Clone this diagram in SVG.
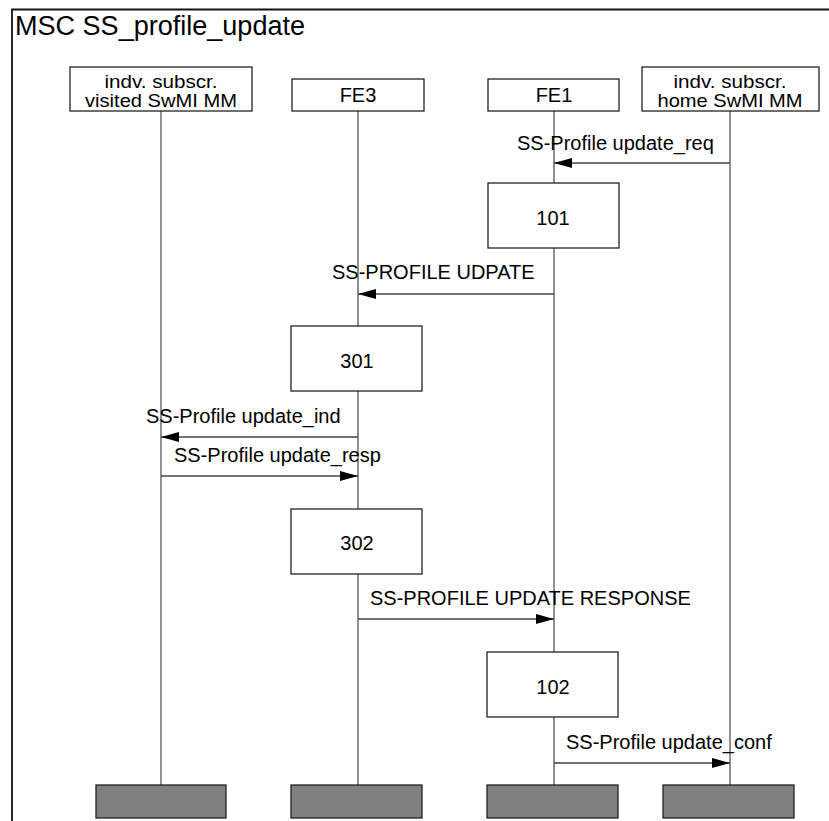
<svg xmlns="http://www.w3.org/2000/svg" width="829" height="821" viewBox="0 0 829 821">
<defs>
<style>
text{font-family:"Liberation Sans",Arial,sans-serif;font-size:20px;fill:#000}
.title{font-size:27px}
.c{text-anchor:middle}
.two{font-size:19px}
.box{fill:#fff;stroke:#222;stroke-width:1.3}
.end{fill:#808080;stroke:#222;stroke-width:1.3}
.life{stroke:#555;stroke-width:1.3;fill:none}
.msg{stroke:#444;stroke-width:1.5;fill:none;marker-end:url(#ah)}
.frame{stroke:#111;stroke-width:1.8;fill:none}
</style>
<marker id="ah" markerUnits="userSpaceOnUse" markerWidth="18" markerHeight="10" refX="18" refY="5" orient="auto">
<path d="M0,0 L18,5 L0,10 z" fill="#000"/>
</marker>
</defs>
<rect width="829" height="821" fill="#fff"/>
<g id="frame">
<path class="frame" d="M12,821 V9.5 H829"/>
<text class="title" x="15" y="35" textLength="290" lengthAdjust="spacingAndGlyphs">MSC SS_profile_update</text>
</g>
<g id="lifelines">
<line class="life" x1="161" y1="111" x2="161" y2="785"/>
<line class="life" x1="358" y1="111" x2="358" y2="785"/>
<line class="life" x1="554" y1="111" x2="554" y2="785"/>
<line class="life" x1="730" y1="111" x2="730" y2="785"/>
</g>
<g id="inst-visited">
<rect class="box" x="70" y="67" width="182" height="44"/>
<text class="c two" x="161" y="88" textLength="113" lengthAdjust="spacingAndGlyphs">indv. subscr.</text>
<text class="c two" x="161" y="107" textLength="152" lengthAdjust="spacingAndGlyphs">visited SwMI MM</text>
</g>
<g id="inst-fe3">
<rect class="box" x="292" y="79" width="132" height="32"/>
<text class="c" x="358" y="102">FE3</text>
</g>
<g id="inst-fe1">
<rect class="box" x="488" y="79" width="131" height="32"/>
<text class="c" x="554" y="102">FE1</text>
</g>
<g id="inst-home">
<rect class="box" x="642" y="67" width="177" height="44"/>
<text class="c two" x="730" y="88" textLength="113" lengthAdjust="spacingAndGlyphs">indv. subscr.</text>
<text class="c two" x="730" y="107" textLength="145" lengthAdjust="spacingAndGlyphs">home SwMI MM</text>
</g>
<g id="act-101">
<rect class="box" x="488" y="183" width="131" height="65"/>
<text class="c" x="553" y="225">101</text>
</g>
<g id="act-301">
<rect class="box" x="291" y="326" width="131" height="65"/>
<text class="c" x="357" y="368">301</text>
</g>
<g id="act-302">
<rect class="box" x="291" y="509" width="131" height="65"/>
<text class="c" x="357" y="550">302</text>
</g>
<g id="act-102">
<rect class="box" x="487" y="652" width="131" height="65"/>
<text class="c" x="553" y="694">102</text>
</g>
<g id="end-visited"><rect class="end" x="96" y="785" width="130" height="33"/></g>
<g id="end-fe3"><rect class="end" x="291" y="785" width="131" height="33"/></g>
<g id="end-fe1"><rect class="end" x="487" y="785" width="131" height="33"/></g>
<g id="end-home"><rect class="end" x="663" y="785" width="131" height="33"/></g>
<g id="connectors">
<line class="msg" x1="730" y1="163" x2="554" y2="163"/>
<text x="517" y="150">SS-Profile update_req</text>
<line class="msg" x1="554" y1="294" x2="358" y2="294"/>
<text x="332" y="279">SS-PROFILE UDPATE</text>
<line class="msg" x1="358" y1="437" x2="161" y2="437"/>
<text x="146" y="423">SS-Profile update_ind</text>
<line class="msg" x1="161" y1="476" x2="358" y2="476"/>
<text x="174" y="462">SS-Profile update_resp</text>
<line class="msg" x1="358" y1="619" x2="554" y2="619"/>
<text x="370" y="605">SS-PROFILE UPDATE RESPONSE</text>
<line class="msg" x1="554" y1="763" x2="730" y2="763"/>
<text x="566" y="749">SS-Profile update_conf</text>
</g>
</svg>
